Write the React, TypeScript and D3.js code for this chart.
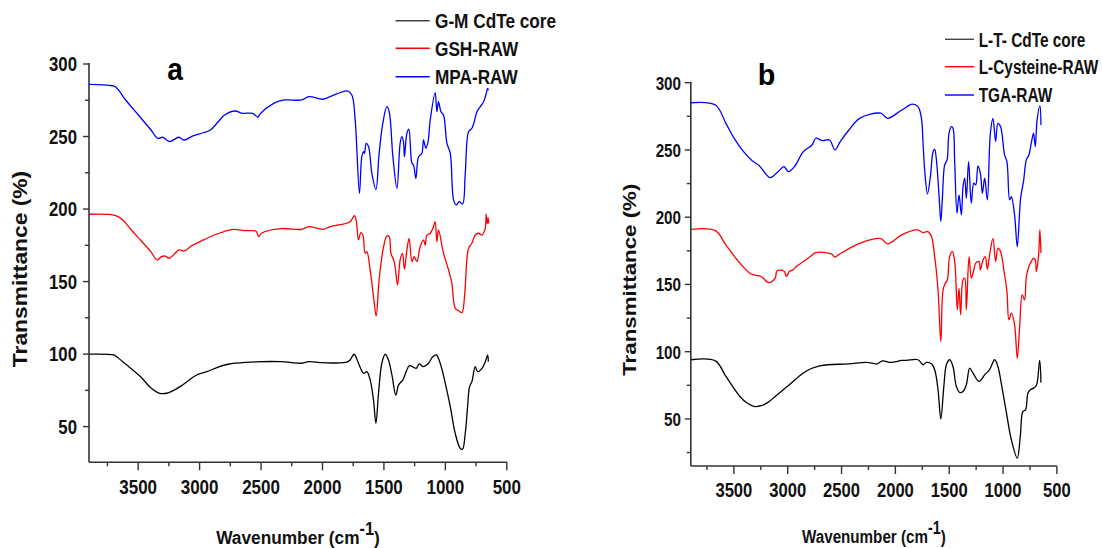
import React from "react";
import * as d3 from "d3";

type P = [number, number];

// ---------- DATA (wavenumber cm-1, transmittance %) ----------
const xTickValues = [3500, 3000, 2500, 2000, 1500, 1000, 500];
const xMinorValues = [3750, 3250, 2750, 2250, 1750, 1250, 750];
const yTickValues = [50, 100, 150, 200, 250, 300];
const yMinorValues = [25, 75, 125, 175, 225, 275];

const legendA = ["G-M CdTe core", "GSH-RAW", "MPA-RAW"];
const legendB = ["L-T- CdTe core", "L-Cysteine-RAW", "TGA-RAW"];
const seriesColors = ["#000000", "#ff0000", "#0000ff"];

const gmCore: P[] = [
  [3900, 100], [3700, 99.5], [3683, 98.7], [3600, 93], [3482, 84.5], [3400, 77], [3325, 73], [3268, 73],
  [3200, 75.5], [3139, 78.7], [3025, 85.6], [2940, 87.9], [2850, 91], [2768, 93], [2626, 94.3], [2340, 94.8],
  [2169, 93.7], [2112, 94.8], [1997, 94.1], [1802, 94.4], [1775, 96], [1742, 99.9], [1707, 93.7], [1666, 86.8],
  [1639, 87.9], [1612, 82.2], [1585, 68.4], [1565, 52.3], [1544, 73], [1517, 93.7], [1490, 99.9], [1463, 96],
  [1435, 85.6], [1403, 71.8], [1381, 78.7], [1346, 82.2], [1319, 87.9], [1292, 92.1], [1259, 90.9], [1237, 90.2],
  [1213, 93.2], [1178, 91.4], [1137, 93.7], [1101, 98.3], [1074, 99.4], [1042, 93.7], [1001, 80], [960, 63.8],
  [920, 45.4], [879, 35], [860, 34.4], [838, 45.4], [819, 63.8], [803, 77.5], [784, 81], [757, 91.4],
  [738, 87.9], [702, 90.2], [675, 94.8], [656, 99.4], [650, 94.8],
];

const gshRaw: P[] = [
  [3900, 196.4], [3683, 195.5], [3625, 192.5], [3550, 185], [3482, 178.7], [3400, 171], [3345, 164.9],
  [3311, 167.2], [3282, 167.6], [3245, 166.1], [3200, 169.5], [3168, 171.8], [3126, 171.1], [3068, 174.5],
  [2968, 178.7], [2882, 182.1], [2800, 184.5], [2725, 186], [2626, 185.1], [2540, 184.7], [2520, 181],
  [2497, 183.3], [2340, 186.5], [2169, 186], [2112, 187.9], [1997, 186], [1938, 187.9], [1775, 191.3],
  [1740, 195.5], [1725, 192], [1707, 178.7], [1688, 183.7], [1671, 182.1], [1653, 169.5], [1639, 170.7],
  [1612, 158], [1585, 139.7], [1563, 126.3], [1539, 151.2], [1503, 174], [1476, 181.4], [1457, 181],
  [1443, 169.5], [1416, 163.8], [1389, 147.7], [1368, 165], [1349, 169.5], [1333, 158.5], [1313, 171.8],
  [1295, 179.8], [1272, 163.8], [1254, 167.2], [1232, 163.8], [1205, 174], [1178, 178.7], [1164, 175.2],
  [1150, 182.1], [1123, 183.3], [1101, 186.8], [1083, 191.3], [1069, 177.5], [1056, 185.6], [1015, 169.5],
  [974, 158], [947, 148.8], [920, 131.6], [893, 129.9], [865, 128.6], [844, 139.7], [825, 165], [811, 173],
  [784, 176.4], [757, 182.1], [730, 183.3], [702, 182.1], [675, 186.8], [668, 196.5], [660, 190], [652, 194], [648, 190],
];

const mpaRaw: P[] = [
  [3900, 286], [3711, 285], [3680, 284], [3600, 275], [3500, 265], [3400, 255], [3340, 248.8], [3300, 249.5],
  [3245, 246.5], [3168, 249.5], [3126, 247.6], [3054, 250.4], [2968, 252.6], [2911, 254.5], [2850, 260],
  [2797, 264.8], [2711, 267.6], [2654, 266], [2569, 266], [2525, 263.3], [2511, 265.3], [2397, 272.9],
  [2311, 275.2], [2169, 275.2], [2112, 277.5], [1997, 275.7], [1938, 277.5], [1798, 281.4], [1761, 278.6],
  [1734, 261.4], [1699, 210.9], [1680, 236.1], [1666, 239.6], [1658, 238.4], [1644, 245.3], [1625, 243],
  [1598, 224.6], [1565, 213.6], [1539, 238.4], [1509, 259.1], [1476, 270.6], [1457, 267.1], [1427, 236.1],
  [1394, 214.3], [1368, 245.3], [1354, 249.9], [1341, 246.4], [1333, 236.1], [1313, 252.2], [1297, 255],
  [1272, 231.6], [1259, 230.4], [1240, 221.2], [1218, 236.1], [1191, 238.4], [1178, 247.6], [1159, 241.9],
  [1142, 245.8], [1123, 261.4], [1083, 280.2], [1069, 267.1], [1056, 274], [1036, 267.1], [1015, 264.8],
  [987, 245.3], [960, 238.4], [933, 206.3], [911, 202.8], [887, 205.1], [860, 203.5], [838, 224.6],
  [811, 253.3], [784, 255.7], [765, 260.2], [743, 267.1], [716, 270.6], [689, 274], [667, 279.8],
  [656, 283.2], [649, 282],
];

const ltCore: P[] = [
  [3900, 94], [3672, 93.2], [3574, 81.6], [3444, 66.7], [3380, 62], [3312, 59.3], [3247, 59.8], [3180, 62.5],
  [3116, 66.7], [2985, 75.4], [2855, 84.1], [2780, 87.5], [2692, 89.7], [2431, 91], [2267, 92], [2169, 91],
  [2121, 93.2], [2039, 92], [1941, 93.5], [1897, 93.5], [1790, 94], [1743, 90.3], [1712, 92], [1665, 91],
  [1635, 86.6], [1604, 71.7], [1578, 49.9], [1550, 74.2], [1526, 90.3], [1496, 94], [1465, 89], [1434, 74.2],
  [1403, 69.7], [1372, 70.4], [1341, 75.4], [1310, 87.8], [1279, 84.1], [1223, 77.9], [1171, 82.8],
  [1125, 86.6], [1078, 94], [1048, 89], [1017, 76.7], [971, 55.6], [923, 34.5], [868, 20.9], [840, 37],
  [816, 55.6], [791, 56.8], [769, 69.2], [747, 71.7], [717, 72.9], [690, 75], [660, 93.5], [648, 77],
];

const lCysRaw: P[] = [
  [3900, 191], [3672, 190], [3574, 179.4], [3444, 165.8], [3345, 157.9], [3312, 157.1], [3247, 155.9],
  [3176, 151.4], [3116, 154.7], [3100, 160], [3035, 160], [3012, 156], [2985, 159.6], [2953, 160.8],
  [2920, 163.3], [2790, 170.7], [2740, 173.7], [2594, 172.7], [2561, 170.3], [2529, 172], [2332, 180.6],
  [2136, 184.1], [2072, 180.2], [1941, 186.9], [1810, 190.6], [1790, 190.5], [1745, 188.6], [1697, 189.3],
  [1665, 185.6], [1635, 170.7], [1604, 146], [1578, 107.6], [1557, 146], [1535, 151], [1517, 153.5],
  [1496, 170.7], [1471, 174.4], [1449, 167], [1425, 131.1], [1409, 147.2], [1394, 127.4], [1372, 153.5],
  [1356, 154.7], [1341, 131.1], [1316, 170.7], [1295, 154.7], [1272, 160.8], [1254, 165.8], [1223, 167],
  [1211, 160.8], [1186, 168.2], [1165, 170.7], [1146, 161.3], [1125, 171.9], [1094, 184.3], [1069, 167],
  [1048, 176.9], [1023, 174.4], [993, 160.8], [964, 144.7], [946, 123.6], [923, 128.6], [893, 119.9],
  [868, 95.1], [846, 118.7], [822, 142.2], [800, 138.5], [784, 155.9], [760, 163.3], [738, 167], [717, 169.5],
  [700, 168], [691, 159.6], [670, 172], [658, 190.6], [648, 173.3],
];

const tgaRaw: P[] = [
  [3900, 285.1], [3672, 283.4], [3574, 269.8], [3500, 259], [3410, 248.7], [3330, 242], [3264, 238.3],
  [3165, 229.4], [3100, 233], [3035, 237.6], [3019, 236.4], [2993, 233.9], [2937, 237.6], [2855, 248.7],
  [2774, 253.7], [2740, 258.7], [2676, 256.9], [2611, 257.4], [2561, 250], [2512, 256.2], [2430, 265],
  [2332, 273.5], [2136, 277.3], [2072, 273.5], [1941, 279.7], [1843, 284], [1790, 282.2], [1758, 273.5],
  [1743, 255], [1728, 235.1], [1702, 217.3], [1675, 230.2], [1650, 248.7], [1635, 250.5], [1619, 242.6],
  [1594, 215.3], [1578, 196.7], [1563, 215.3], [1542, 238.9], [1520, 242.6], [1502, 262.4], [1480, 267.3],
  [1465, 266.1], [1449, 240.1], [1428, 202.9], [1409, 216.6], [1387, 201.7], [1372, 222.7], [1356, 229],
  [1341, 214.1], [1320, 241.3], [1295, 210.4], [1272, 225.3], [1254, 224], [1233, 238.1], [1211, 232.7],
  [1192, 217.8], [1171, 229], [1146, 212.9], [1118, 262.4], [1094, 273.5], [1069, 256.2], [1048, 269.8],
  [1023, 267.3], [986, 246.3], [964, 241.3], [939, 212.9], [923, 215.3], [893, 201.7], [868, 178],
  [837, 214.1], [809, 227.2], [784, 242.6], [760, 246.3], [738, 255], [717, 262.4], [701, 252.5],
  [684, 272.3], [658, 283], [648, 268.6],
];

// ---------- LAYOUT ----------
const FONT = "'Liberation Sans', Arial, Helvetica, sans-serif";

type PanelCfg = {
  x0: number; x1: number; yTop: number; yBot: number; yMin: number;
  series: P[][]; legend: string[];
  xtFs: number; xtSx: number; xtBase: number;
  ytFs: number; ytSx: number; ytRight: number;
  ylCx: number; ylCy: number; ylFs: number; ylStretch: number;
  xlCx: number; xlBase: number; xlFs: number; xlSx: number;
  tag: string; tagCx: number; tagBase: number; tagFs: number; tagSx: number;
  lgX0: number; lgX1: number; lgTx: number; lgRows: number[]; lgFs: number; lgSx: number;
};

const panels: PanelCfg[] = [
  {
    x0: 89, x1: 506.8, yTop: 64, yBot: 462.3, yMin: 25.4,
    series: [gmCore, gshRaw, mpaRaw], legend: legendA,
    xtFs: 21, xtSx: 0.81, xtBase: 494,
    ytFs: 20, ytSx: 0.84, ytRight: 77,
    ylCx: 19.3, ylCy: 269, ylFs: 20, ylStretch: 1.14,
    xlCx: 298, xlBase: 544, xlFs: 19, xlSx: 0.91,
    tag: "a", tagCx: 175, tagBase: 80, tagFs: 32, tagSx: 0.88,
    lgX0: 395.6, lgX1: 429.7, lgTx: 435, lgRows: [20.7, 48.3, 76.7], lgFs: 21, lgSx: 0.82,
  },
  {
    x0: 690.8, x1: 1056.9, yTop: 82.7, yBot: 466, yMin: 15,
    series: [ltCore, lCysRaw, tgaRaw], legend: legendB,
    xtFs: 20, xtSx: 0.83, xtBase: 497,
    ytFs: 19, ytSx: 0.8, ytRight: 681,
    ylCx: 629.2, ylCy: 279.7, ylFs: 18, ylStretch: 1.24,
    xlCx: 873.9, xlBase: 543, xlFs: 19, xlSx: 0.8,
    tag: "b", tagCx: 766.5, tagBase: 85, tagFs: 30, tagSx: 0.96,
    lgX0: 945, lgX1: 974, lgTx: 978.7, lgRows: [39.3, 66.7, 95], lgFs: 20, lgSx: 0.77,
  },
];

function Panel({ c }: { c: PanelCfg }) {
  const x = d3.scaleLinear().domain([3900, 500]).range([c.x0, c.x1]);
  const y = d3.scaleLinear().domain([c.yMin, 300]).range([c.yBot, c.yTop]);
  const line = d3
    .line<P>()
    .x((d) => x(d[0]))
    .y((d) => y(d[1]))
    .curve(d3.curveCatmullRom.alpha(0.5));
  const axisColor = "#333";
  return (
    <g>
      {c.series.map((s, i) => (
        <path key={i} d={line(s) || ""} fill="none" stroke={seriesColors[i]} strokeWidth={1.3} strokeLinejoin="round" />
      ))}
      {/* axes */}
      <line x1={c.x0} x2={c.x0} y1={c.yTop - 1} y2={c.yBot} stroke={axisColor} strokeWidth={1.6} />
      <line x1={c.x0} x2={c.x1} y1={c.yBot} y2={c.yBot} stroke={axisColor} strokeWidth={1.6} />
      {xTickValues.map((v) => (
        <g key={"xt" + v}>
          <line x1={x(v)} x2={x(v)} y1={c.yBot} y2={c.yBot + 8} stroke={axisColor} strokeWidth={1.4} />
          <text
            transform={`translate(${x(v)},${c.xtBase}) scale(${c.xtSx},1)`}
            fontSize={c.xtFs} fontWeight="bold" fontFamily={FONT} textAnchor="middle" fill="#111"
          >
            {v}
          </text>
        </g>
      ))}
      {xMinorValues.map((v) => (
        <line key={"xm" + v} x1={x(v)} x2={x(v)} y1={c.yBot} y2={c.yBot + 4} stroke={axisColor} strokeWidth={1.4} />
      ))}
      {yTickValues.map((v) => (
        <g key={"yt" + v}>
          <line x1={c.x0 - 6} x2={c.x0} y1={y(v)} y2={y(v)} stroke={axisColor} strokeWidth={1.4} />
          <text
            transform={`translate(${c.ytRight},${y(v) + c.ytFs * 0.36}) scale(${c.ytSx},1)`}
            fontSize={c.ytFs} fontWeight="bold" fontFamily={FONT} textAnchor="end" fill="#111"
          >
            {v}
          </text>
        </g>
      ))}
      {yMinorValues
        .filter((v) => v >= c.yMin)
        .map((v) => (
          <line key={"ym" + v} x1={c.x0 - 4} x2={c.x0} y1={y(v)} y2={y(v)} stroke={axisColor} strokeWidth={1.4} />
        ))}
      {/* axis titles */}
      <text
        transform={`translate(${c.ylCx},${c.ylCy}) rotate(-90) scale(${c.ylStretch},1)`}
        y={c.ylFs * 0.36}
        fontSize={c.ylFs} fontWeight="bold" fontFamily={FONT} textAnchor="middle" fill="#111"
      >
        Transmittance (%)
      </text>
      <text
        transform={`translate(${c.xlCx},${c.xlBase}) scale(${c.xlSx},1)`}
        fontSize={c.xlFs} fontWeight="bold" fontFamily={FONT} textAnchor="middle" fill="#111"
      >
        Wavenumber (cm
        <tspan dy={-9} fontSize={c.xlFs - 1}>-1</tspan>
        <tspan dy={9}>)</tspan>
      </text>
      {/* panel tag */}
      <text
        transform={`translate(${c.tagCx},${c.tagBase}) scale(${c.tagSx},1)`}
        fontSize={c.tagFs} fontWeight="bold" fontFamily={FONT} textAnchor="middle" fill="#000"
      >
        {c.tag}
      </text>
      {/* legend */}
      {c.legend.map((name, i) => (
        <g key={name}>
          <line x1={c.lgX0} x2={c.lgX1} y1={c.lgRows[i]} y2={c.lgRows[i]} stroke={i === 0 ? "#444" : seriesColors[i]} strokeWidth={1.4} />
          <text
            transform={`translate(${c.lgTx},${c.lgRows[i] + c.lgFs * 0.36}) scale(${c.lgSx},1)`}
            fontSize={c.lgFs} fontWeight="bold" fontFamily={FONT} textAnchor="start" fill="#111"
          >
            {name}
          </text>
        </g>
      ))}
    </g>
  );
}

export default function App() {
  return (
    <svg
      width={1102}
      height={548}
      viewBox="0 0 1102 548"
      style={{ position: "absolute", left: 0, top: 0, background: "#fff" }}
    >
      <rect x={0} y={0} width={1102} height={548} fill="#fff" />
      {panels.map((p, i) => (
        <Panel key={i} c={p} />
      ))}
    </svg>
  );
}
